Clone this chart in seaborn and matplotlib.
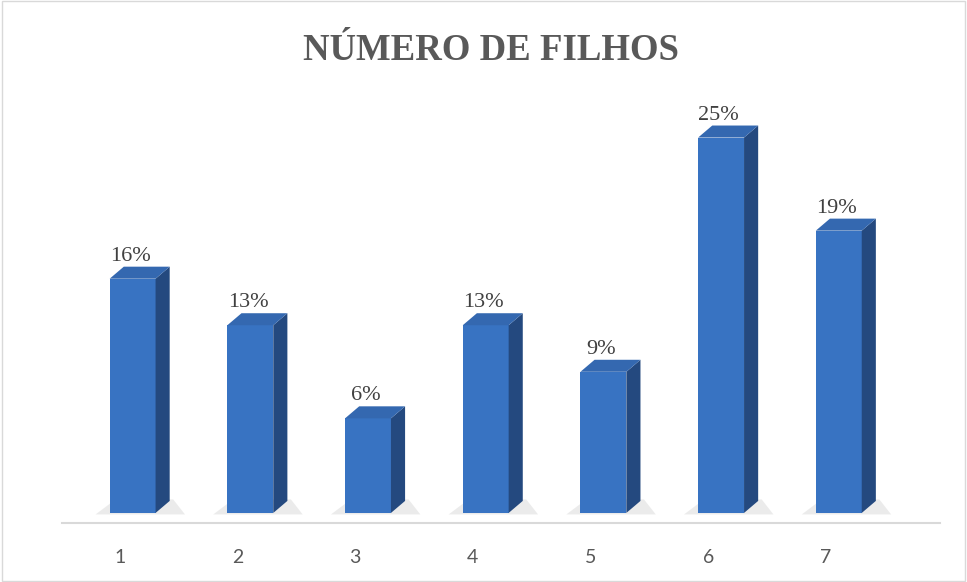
import matplotlib
matplotlib.use("Agg")
import matplotlib.pyplot as plt
from matplotlib.patches import Polygon, Rectangle
import pandas as pd
import seaborn as sns

categories = ["1", "2", "3", "4", "5", "6", "7"]
values = [15.6, 12.5, 6.3, 12.5, 9.4, 25.0, 18.8]
labels = ["16%", "13%", "6%", "13%", "9%", "25%", "19%"]

df = pd.DataFrame({"filhos": categories, "pct": values})

sns.set_style("white")
fig = plt.figure(figsize=(9.67, 5.82), dpi=100)
ax = fig.add_axes([62 / 967, 59 / 582, 878 / 967, 423 / 582])

sns.barplot(data=df, x="filhos", y="pct", color="#3873c2", width=0.39,
            saturation=1, ax=ax, zorder=3)

dx, dy = 0.12, 0.8
bars = list(ax.patches)
for p in bars:
    p.set_x(p.get_x() + 0.11)
    p.set_edgecolor("none")
for p in bars:
    x0 = p.get_x()
    x1 = x0 + p.get_width()
    h = p.get_height()
    # floor shadow
    ax.add_patch(Polygon([(x0 - 0.12, -0.1), (x1 + 0.25, -0.1), (x1 + 0.15, 0.9), (x0 + 0.05, 0.9)],
                         closed=True, facecolor="#bfbfbf", alpha=0.3, edgecolor="none", zorder=1))
    # right side face
    ax.add_patch(Polygon([(x1, 0), (x1 + dx, dy), (x1 + dx, h + dy), (x1, h)],
                         closed=True, facecolor="#24497f", edgecolor="none", zorder=3))
    # top face
    ax.add_patch(Polygon([(x0, h), (x1, h), (x1 + dx, h + dy), (x0 + dx, h + dy)],
                         closed=True, facecolor="#3468b0", edgecolor="none", zorder=3))

for p, lab in zip(bars, labels):
    cx = p.get_x() + p.get_width() / 2 - 0.02
    ax.text(cx, p.get_height() + dy + 0.4, lab, ha="center", va="baseline",
            fontsize=16, family="Liberation Serif", color="#404040")

ax.set_xlim(-0.49, 6.97)
ax.set_ylim(-0.67, 27.5)
ax.set_xlabel("")
ax.set_ylabel("")
ax.set_yticks([])
ax.tick_params(axis="x", length=0, pad=19, labelsize=14, labelcolor="#595959")
for t in ax.get_xticklabels():
    t.set_family("Lato")
for s in ["top", "right", "left"]:
    ax.spines[s].set_visible(False)
ax.spines["bottom"].set_color("#d9d9d9")
ax.spines["bottom"].set_linewidth(1.5)

fig.text(491 / 967, 1 - 60 / 582, "NÚMERO DE FILHOS", ha="center", va="baseline",
         fontsize=26.5, fontweight="bold", family="Liberation Serif", color="#595959")

fig.patches.append(Rectangle((0.002, 0.002), 0.996, 0.996, transform=fig.transFigure,
                             fill=False, edgecolor="#d9d9d9", linewidth=1))

fig.savefig("out.png", dpi=100)
